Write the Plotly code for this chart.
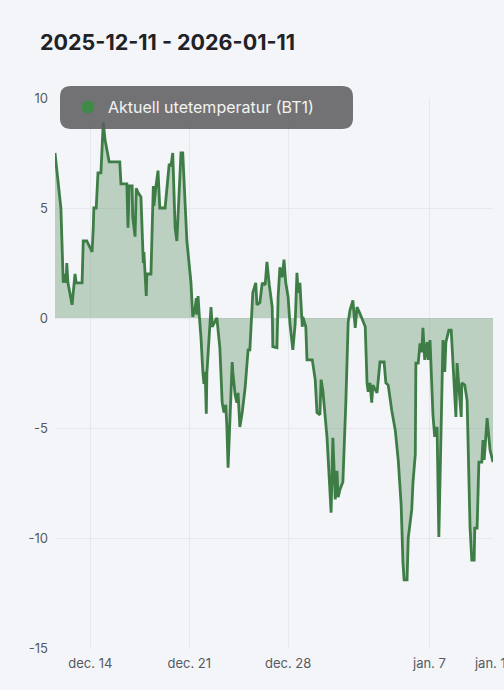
import plotly.graph_objects as go

# ---- data ----
title_text = "2025-12-11 - 2026-01-11"
series_name = "Aktuell utetemperatur (BT1)"

times = [
    "2025-12-11 12:00", "2025-12-11 22:00", "2025-12-12 02:00", "2025-12-12 05:00", "2025-12-12 07:00",
    "2025-12-12 08:00", "2025-12-12 10:00", "2025-12-12 17:00", "2025-12-12 22:00", "2025-12-13 00:00",
    "2025-12-13 10:00", "2025-12-13 12:00", "2025-12-13 18:00", "2025-12-14 03:00", "2025-12-14 05:00",
    "2025-12-14 06:00", "2025-12-14 10:00", "2025-12-14 13:00", "2025-12-14 18:00", "2025-12-14 22:00",
    "2025-12-15 01:00", "2025-12-15 08:00", "2025-12-16 02:00", "2025-12-16 04:00", "2025-12-16 14:00",
    "2025-12-16 16:00", "2025-12-16 18:00", "2025-12-16 23:00", "2025-12-17 00:00", "2025-12-17 04:00",
    "2025-12-17 06:00", "2025-12-17 09:00", "2025-12-17 14:00", "2025-12-17 18:00", "2025-12-17 19:00",
    "2025-12-17 23:00", "2025-12-18 00:00", "2025-12-18 07:00", "2025-12-18 11:00", "2025-12-18 12:00",
    "2025-12-18 16:00", "2025-12-18 19:00", "2025-12-18 22:00", "2025-12-19 07:00", "2025-12-19 14:00",
    "2025-12-19 17:00", "2025-12-19 20:00", "2025-12-20 00:00", "2025-12-20 03:00", "2025-12-20 05:00",
    "2025-12-20 10:00", "2025-12-20 13:00", "2025-12-20 20:00", "2025-12-21 03:00", "2025-12-21 06:00",
    "2025-12-21 10:00", "2025-12-21 12:00", "2025-12-21 13:00", "2025-12-21 15:00", "2025-12-21 17:00",
    "2025-12-21 20:00", "2025-12-21 23:00", "2025-12-22 01:00", "2025-12-22 03:00", "2025-12-22 05:00",
    "2025-12-22 06:00", "2025-12-22 10:00", "2025-12-22 13:00", "2025-12-22 15:00", "2025-12-22 23:00",
    "2025-12-23 01:00", "2025-12-23 04:00", "2025-12-23 08:00", "2025-12-23 11:00", "2025-12-23 14:00",
    "2025-12-23 16:00", "2025-12-23 18:00", "2025-12-23 21:00", "2025-12-24 01:00", "2025-12-24 02:00",
    "2025-12-24 06:00", "2025-12-24 09:00", "2025-12-24 11:00", "2025-12-24 14:00", "2025-12-24 18:00",
    "2025-12-24 23:00", "2025-12-25 04:00", "2025-12-25 07:00", "2025-12-25 11:00", "2025-12-25 12:00",
    "2025-12-25 17:00", "2025-12-25 19:00", "2025-12-26 00:00", "2025-12-26 04:00", "2025-12-26 09:00",
    "2025-12-26 12:00", "2025-12-26 16:00", "2025-12-26 21:00", "2025-12-26 22:00", "2025-12-27 05:00",
    "2025-12-27 07:00", "2025-12-27 10:00", "2025-12-27 14:00", "2025-12-27 17:00", "2025-12-27 20:00",
    "2025-12-28 00:00", "2025-12-28 03:00", "2025-12-28 07:00", "2025-12-28 08:00", "2025-12-28 12:00",
    "2025-12-28 15:00", "2025-12-28 17:00", "2025-12-28 20:00", "2025-12-29 00:00", "2025-12-29 01:00",
    "2025-12-29 06:00", "2025-12-29 08:00", "2025-12-29 17:00", "2025-12-29 22:00", "2025-12-30 01:00",
    "2025-12-30 06:00", "2025-12-30 08:00", "2025-12-30 11:00", "2025-12-30 18:00", "2025-12-30 20:00",
    "2025-12-31 01:00", "2025-12-31 04:00", "2025-12-31 08:00", "2025-12-31 11:00", "2025-12-31 13:00",
    "2025-12-31 16:00", "2025-12-31 21:00", "2026-01-01 02:00", "2026-01-01 06:00", "2026-01-01 09:00",
    "2026-01-01 14:00", "2026-01-01 18:00", "2026-01-01 21:00", "2026-01-02 02:00", "2026-01-02 11:00",
    "2026-01-02 14:00", "2026-01-02 16:00", "2026-01-02 19:00", "2026-01-02 22:00", "2026-01-03 00:00",
    "2026-01-03 07:00", "2026-01-03 12:00", "2026-01-03 19:00", "2026-01-03 22:00", "2026-01-04 02:00",
    "2026-01-04 08:00", "2026-01-04 14:00", "2026-01-04 19:00", "2026-01-05 00:00", "2026-01-05 03:00",
    "2026-01-05 05:00", "2026-01-05 10:00", "2026-01-05 12:00", "2026-01-05 18:00", "2026-01-05 20:00",
    "2026-01-06 00:00", "2026-01-06 01:00", "2026-01-06 05:00", "2026-01-06 08:00", "2026-01-06 11:00",
    "2026-01-06 13:00", "2026-01-06 16:00", "2026-01-06 20:00", "2026-01-06 22:00", "2026-01-07 01:00",
    "2026-01-07 06:00", "2026-01-07 09:00", "2026-01-07 13:00", "2026-01-07 16:00", "2026-01-07 23:00",
    "2026-01-08 02:00", "2026-01-08 04:00", "2026-01-08 09:00", "2026-01-08 13:00", "2026-01-08 16:00",
    "2026-01-08 19:00", "2026-01-08 21:00", "2026-01-08 23:00", "2026-01-09 02:00", "2026-01-09 06:00",
    "2026-01-09 07:00", "2026-01-09 12:00", "2026-01-09 16:00", "2026-01-09 21:00", "2026-01-10 00:00",
    "2026-01-10 04:00", "2026-01-10 05:00", "2026-01-10 09:00", "2026-01-10 12:00", "2026-01-10 17:00",
    "2026-01-10 19:00", "2026-01-10 21:00", "2026-01-11 02:00", "2026-01-11 07:00", "2026-01-11 12:00",
]

temps = [
    7.5, 5.0, 1.6, 2.0, 1.6,
    2.5, 1.6, 0.6, 2.0, 1.6,
    1.6, 3.5, 3.5, 3.0, 4.1,
    5.0, 5.0, 6.6, 6.6, 8.9,
    8.1, 7.1, 7.1, 6.1, 6.1,
    4.1, 6.0, 6.0, 4.6, 3.7,
    5.9, 5.7, 5.5, 2.5, 3.0,
    1.0, 2.0, 2.0, 6.0, 5.1,
    6.1, 6.7, 5.0, 5.0, 7.0,
    6.9, 7.5, 4.1, 3.5, 4.6,
    7.5, 7.5, 3.5, 1.6, 0.05,
    0.45, 0.9, 0.15, 1.0, 0.15,
    -0.9, -2.4, -3.0, -2.45, -4.35,
    -2.5, -0.45, 0.5, -0.4, 0.0,
    -0.55, -1.35, -3.85, -4.3, -3.95,
    -4.95, -6.8, -4.95, -2.0, -2.45,
    -3.5, -3.85, -3.4, -4.95, -4.3,
    -3.15, -1.45, -1.45, 1.05, 1.15,
    1.6, 0.6, 0.7, 1.6, 1.5,
    2.55, 1.5, 0.5, -1.3, -1.35,
    0.95, 2.3, 1.85, 2.65, 1.6,
    0.95, -0.25, -1.35, -1.45, -0.25,
    2.05, 1.15, 1.6, -0.4, 0.05,
    -0.4, -1.9, -1.9, -2.8, -4.3,
    -4.4, -2.8, -3.3, -5.4, -6.6,
    -8.85, -5.45, -8.25, -6.95, -8.15,
    -7.8, -7.45, -3.85, -0.2, 0.35,
    0.8, -0.45, 0.5, 0.2, -0.4,
    -2.95, -3.35, -2.95, -3.85, -3.05,
    -3.4, -2.0, -2.0, -2.95, -3.05,
    -4.2, -5.1, -6.45, -8.5, -11.1,
    -11.9, -11.9, -10.0, -8.7, -7.5,
    -6.2, -2.05, -2.05, -1.15, -1.55,
    -0.45, -1.9, -1.1, -1.9, -1.0,
    -4.4, -5.4, -4.95, -9.95, -1.0,
    -2.45, -1.1, -0.55, -0.55, -2.05,
    -3.15, -4.5, -2.05, -2.95, -4.5,
    -2.95, -3.05, -3.75, -9.5, -11.0,
    -11.0, -9.55, -9.55, -6.55, -6.55,
    -5.55, -6.45, -4.55, -6.0, -6.55,
]

x_tick_vals = ["2025-12-14", "2025-12-21", "2025-12-28", "2026-01-07", "2026-01-11 12:00"]
x_tick_text = ["dec. 14", "dec. 21", "dec. 28", "jan. 7", "jan. 11"]
y_tick_vals = [-15, -10, -5, 0, 5, 10]
y_tick_text = ["-15", "-10", "-5", "0", "5", "10"]

# ---- styling ----
W, H = 504, 690
ML, MR, MT, MB = 55, 11, 98, 42
PW, PH = W - ML - MR, H - MT - MB
BG = "#f4f5f9"
LINE = "#3f7d47"
FILL = "rgba(63,125,71,0.31)"
GRID = "#e7e8ee"
FONT = "Inter, 'Noto Sans', sans-serif"


def px(x):
    return (x - ML) / PW


def py(y):
    return (H - MB - y) / PH


fig = go.Figure()
fig.add_trace(go.Scatter(
    x=times, y=temps, mode="lines", fill="tozeroy",
    line=dict(color=LINE, width=2.8), fillcolor=FILL,
    showlegend=False, hoverinfo="skip",
))
fig.add_trace(go.Scatter(
    x=[None], y=[None], mode="markers", name=series_name,
    marker=dict(color="#3e8a46", size=13), showlegend=True,
))

# rounded legend box
bx0, bx1, by0, by1, r = px(60), px(353), py(129), py(86), 11
rx, ry = r / PW, r / PH
path = (f"M {bx0+rx},{by1} L {bx1-rx},{by1} Q {bx1},{by1} {bx1},{by1-ry} "
        f"L {bx1},{by0+ry} Q {bx1},{by0} {bx1-rx},{by0} "
        f"L {bx0+rx},{by0} Q {bx0},{by0} {bx0},{by0+ry} "
        f"L {bx0},{by1-ry} Q {bx0},{by1} {bx0+rx},{by1} Z")
fig.add_shape(type="path", path=path, xref="paper", yref="paper",
              fillcolor="rgba(92,92,94,0.86)", line=dict(width=0), layer="above")

fig.update_layout(
    width=W, height=H,
    margin=dict(l=ML, r=MR, t=MT, b=MB, autoexpand=False),
    paper_bgcolor=BG, plot_bgcolor=BG,
    font=dict(family=FONT, color="#555a60", size=13),
    title=dict(text=f"<b>{title_text}</b>", x=40 / W, xref="container", xanchor="left",
               y=1 - 42 / H, yref="container", yanchor="middle",
               font=dict(family=FONT, size=21.5, color="#202226")),
    legend=dict(x=px(68), y=py(107), xanchor="left", yanchor="middle",
                bgcolor="rgba(0,0,0,0)", font=dict(color="#f2f2f2", size=16, family=FONT),
                itemclick=False),
    xaxis=dict(type="date", range=[times[0], times[-1]], automargin=False,
               tickmode="array", tickvals=x_tick_vals, ticktext=x_tick_text,
               showgrid=True, gridcolor=GRID, gridwidth=1, zeroline=False,
               showline=False, ticks="", ticklabelstandoff=6,
               ticklabeloverflow="allow", tickfont=dict(size=13, color="#555a60")),
    yaxis=dict(range=[-15, 10], tickmode="array", tickvals=y_tick_vals, ticktext=y_tick_text,
               automargin=False,
               showgrid=True, gridcolor=GRID, gridwidth=1, zeroline=False,
               showline=False, ticks="", ticklabelstandoff=6,
               tickfont=dict(size=13, color="#555a60")),
)

fig.write_html("out.html")
